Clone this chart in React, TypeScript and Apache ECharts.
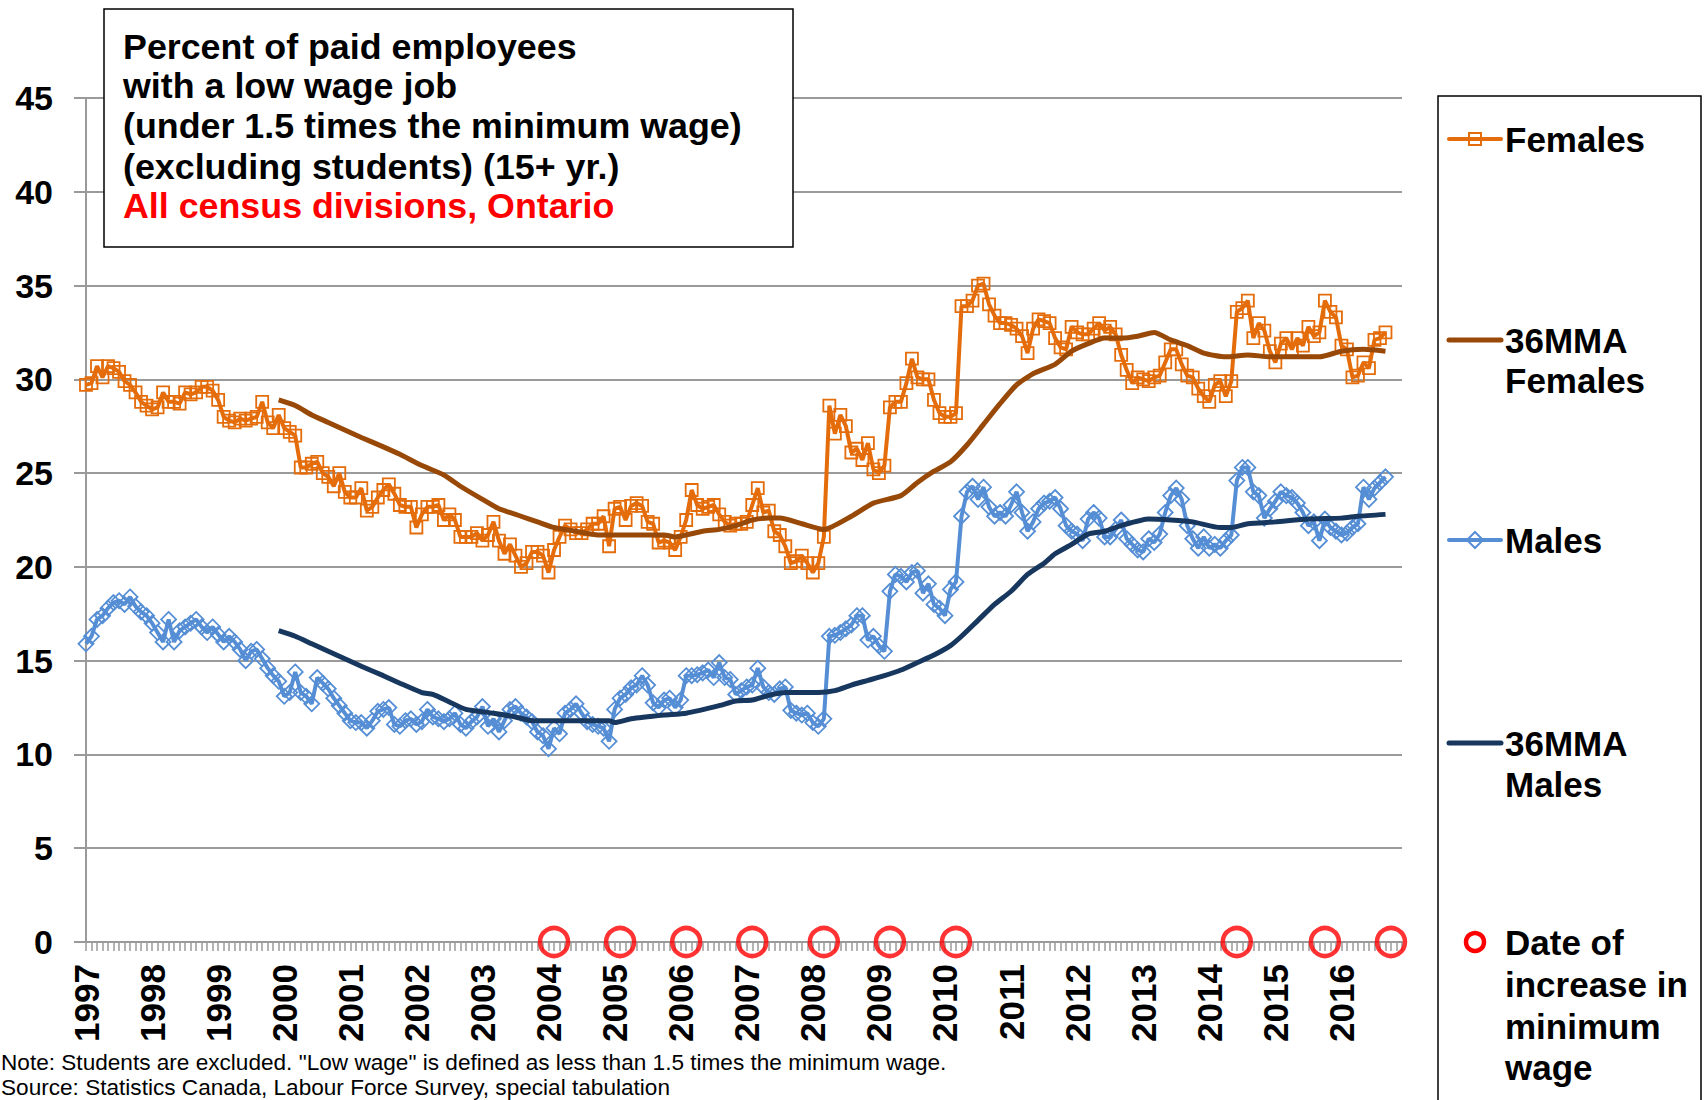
import React, { useEffect, useRef } from "react";
import * as echarts from "echarts";

// ---------- DATA ----------
const years = [1997, 1998, 1999, 2000, 2001, 2002, 2003, 2004, 2005, 2006, 2007, 2008, 2009, 2010, 2011, 2012, 2013, 2014, 2015, 2016];

// Monthly, Jan 1997 .. Sep 2016
const femalesPct = [
  29.7, 29.8, 30.7, 30.1, 30.7, 30.6, 30.4, 29.9, 29.7, 29.3,
  28.8, 28.6, 28.4, 28.5, 29.3, 28.8, 28.8, 28.7, 29.3, 29.2,
  29.3, 29.6, 29.6, 29.4, 28.9, 28.0, 27.8, 27.7, 27.9, 27.8,
  27.9, 28.0, 28.8, 27.7, 27.4, 28.1, 27.4, 27.2, 27.0, 25.3,
  25.3, 25.5, 25.6, 25.0, 24.8, 24.3, 25.0, 24.0, 23.7, 23.7,
  24.2, 23.0, 23.2, 23.7, 24.1, 24.4, 23.9, 23.3, 23.2, 23.2,
  22.1, 22.8, 23.2, 23.2, 23.3, 22.5, 22.8, 22.5, 21.6, 21.6,
  21.6, 21.8, 21.4, 21.7, 22.4, 21.4, 20.7, 21.2, 20.6, 20.0,
  20.2, 20.8, 20.8, 20.6, 19.7, 20.9, 21.6, 22.2, 22.0, 21.8,
  21.8, 22.0, 22.3, 22.3, 22.7, 21.1, 23.1, 23.2, 22.5, 23.25,
  23.4, 23.25, 22.4, 22.3, 21.3, 21.4, 21.3, 20.9, 21.6, 22.5,
  24.1, 23.3, 23.1, 23.2, 23.3, 22.8, 22.4, 22.2, 22.3, 22.3,
  22.4, 23.3, 24.2, 22.9, 23.0, 21.9, 21.7, 21.1, 20.2, 20.3,
  20.6, 20.2, 19.7, 20.2, 21.6, 28.6, 27.1, 28.1, 27.5, 26.1,
  26.3, 25.7, 26.6, 25.2, 25.0, 25.4, 28.5, 28.8, 28.8, 29.8,
  31.1, 30.1, 30.0, 30.0, 28.9, 28.2, 28.0, 28.0, 28.2, 33.9,
  33.9, 34.2, 35.0, 35.1, 34.0, 33.4, 33.0, 33.0, 32.9, 32.7,
  32.3, 31.4, 32.7, 33.2, 33.1, 33.0, 32.2, 31.7, 31.6, 32.8,
  32.5, 32.4, 32.4, 32.7, 33.0, 32.6, 32.8, 32.4, 31.3, 30.5,
  29.8, 30.1, 30.0, 29.9, 30.1, 30.2, 30.9, 31.6, 31.6, 30.8,
  30.2, 30.1, 29.5, 29.1, 28.8, 29.7, 29.9, 29.1, 29.9, 33.6,
  33.8, 34.2, 32.2, 33.0, 32.6, 31.5, 30.9, 31.9, 32.2, 31.6,
  32.2, 31.8, 32.8, 32.3, 32.5, 34.2, 33.6, 33.3, 31.8, 31.6,
  30.1, 30.2, 30.9, 30.6, 32.1, 32.2, 32.5,
];

const malesPct = [
  15.9, 16.3, 17.2, 17.4, 17.8, 18.1, 18.2, 18.0, 18.4, 17.9,
  17.6, 17.4, 17.0, 16.5, 16.0, 17.2, 16.0, 16.6, 16.8, 17.0,
  17.2, 16.8, 16.5, 16.8, 16.4, 16.0, 16.3, 16.0, 15.6, 15.0,
  15.5, 15.6, 15.1, 14.6, 14.2, 13.9, 13.1, 13.3, 14.4, 13.3,
  13.1, 12.7, 14.1, 13.8, 13.5, 13.0, 12.6, 12.2, 11.8, 11.7,
  11.7, 11.4, 11.8, 12.3, 12.4, 12.5, 11.6, 11.5, 11.8, 11.9,
  11.6, 11.75, 12.4, 12.0, 11.9, 11.75, 11.9, 12.2, 11.6, 11.4,
  11.75, 12.0, 12.55, 11.5, 11.9, 11.2, 11.8, 12.4, 12.55, 12.2,
  12.0, 11.75, 11.2, 11.0, 10.3, 11.4, 11.1, 12.2, 12.4, 12.7,
  12.2, 11.75, 11.6, 11.5, 11.4, 10.7, 12.4, 13.0, 13.2, 13.55,
  13.7, 14.2, 13.7, 12.75, 12.5, 12.9, 13.0, 12.5, 12.9, 14.2,
  14.2, 14.25, 14.35, 14.5, 14.1, 14.9, 14.1, 14.0, 13.2, 13.4,
  13.6, 13.7, 14.6, 13.6, 13.3, 13.2, 13.5, 13.6, 12.35, 12.2,
  12.1, 12.2, 11.7, 11.5, 11.9, 16.3, 16.35, 16.5, 16.7, 16.9,
  17.4, 17.4, 16.1, 16.3, 15.8, 15.5, 18.7, 19.6, 19.5, 19.2,
  19.7, 19.8, 18.6, 19.1, 18.0, 17.8, 17.4, 18.8, 19.2, 22.7,
  24.0, 24.3, 23.6, 24.25, 23.2, 22.7, 22.9, 22.7, 23.3, 24.0,
  22.9, 21.9, 22.4, 23.1, 23.4, 23.5, 23.7, 23.1, 22.2, 21.9,
  21.75, 21.4, 22.55, 22.9, 22.6, 21.6, 21.6, 22.0, 22.5, 21.5,
  21.2, 20.9, 20.8, 21.5, 21.3, 21.75, 22.9, 23.8, 24.2, 23.6,
  22.2, 21.5, 21.0, 21.6, 21.0, 21.2, 21.0, 21.4, 21.7, 24.6,
  25.3, 25.3, 24.0, 23.8, 22.6, 23.1, 23.5, 24.0, 23.8, 23.7,
  23.4, 22.9, 22.2, 22.4, 21.4, 22.55, 22.1, 21.9, 21.7, 21.8,
  22.1, 22.3, 24.25, 23.6, 24.2, 24.5, 24.8,
];

// 36-month moving averages, read at month indices (0 = Jan 1997)
const maFemalesIdx = [35, 38, 41, 44, 47, 50, 54, 57, 61, 65, 68, 72, 75, 79, 82, 85, 89, 93, 99, 105, 107, 112, 115, 118, 121, 124, 126, 130, 134, 139, 143, 148, 151, 154, 157, 160, 163, 166, 169, 172, 176, 179, 182, 185, 188, 191, 194, 197, 200, 203, 207, 211, 215, 220, 224, 228, 232, 236];
const maFemalesPct = [28.9, 28.6, 28.1, 27.7, 27.3, 26.9, 26.4, 26.0, 25.4, 24.9, 24.3, 23.6, 23.1, 22.7, 22.4, 22.1, 21.9, 21.7, 21.7, 21.7, 21.6, 21.9, 22.0, 22.2, 22.5, 22.6, 22.6, 22.3, 22.0, 22.7, 23.4, 23.8, 24.5, 25.1, 25.6, 26.5, 27.6, 28.7, 29.7, 30.3, 30.8, 31.5, 31.9, 32.2, 32.2, 32.3, 32.5, 32.1, 31.8, 31.4, 31.2, 31.3, 31.2, 31.2, 31.2, 31.5, 31.6, 31.5];

const maMalesIdx = [35, 38, 41, 44, 47, 50, 54, 57, 61, 63, 66, 69, 74, 78, 81, 87, 95, 96, 99, 105, 109, 115, 118, 121, 124, 127, 133, 136, 139, 142, 145, 148, 151, 154, 157, 159, 162, 165, 168, 171, 174, 176, 179, 182, 185, 188, 193, 197, 201, 206, 208, 211, 216, 222, 228, 231, 236];
const maMalesPct = [16.6, 16.3, 15.9, 15.5, 15.1, 14.7, 14.2, 13.8, 13.3, 13.2, 12.8, 12.4, 12.2, 12.0, 11.8, 11.8, 11.8, 11.7, 11.9, 12.1, 12.2, 12.6, 12.85, 12.9, 13.15, 13.3, 13.3, 13.4, 13.7, 13.95, 14.2, 14.5, 14.9, 15.3, 15.8, 16.3, 17.15, 18.0, 18.7, 19.6, 20.2, 20.7, 21.2, 21.75, 21.9, 22.2, 22.55, 22.5, 22.4, 22.1, 22.1, 22.3, 22.4, 22.55, 22.6, 22.7, 22.8];

const minWageIncreaseDates = ["2004-02", "2005-02", "2006-02", "2007-02", "2008-03", "2009-03", "2010-03", "2014-06", "2015-10", "2016-10"];

const titleLines = [
  "Percent of paid employees",
  "with a low wage job",
  "(under 1.5 times the minimum wage)",
  "(excluding students) (15+ yr.)",
  "All census divisions, Ontario",
];

const noteLines = [
  'Note: Students are excluded. "Low wage" is defined as less than 1.5 times the minimum wage.',
  "Source: Statistics Canada, Labour Force Survey, special tabulation",
];

// ---------- STYLE ----------
const C_FEM = "#E46C0A";
const C_FEM_MA = "#984807";
const C_MALE = "#558ED5";
const C_MALE_MA = "#17375E";
const C_RED = "#FF0000";
const GRID_GRAY = "#9a9a9a";
const FONT = '"Liberation Sans", Arial, sans-serif';

const months = years.flatMap((y) =>
  Array.from({ length: 12 }, (_, m) => `${y}-${String(m + 1).padStart(2, "0")}`)
);

function legendGraphics() {
  const lx0 = 1449;
  const lx1 = 1501;
  const cx = (lx0 + lx1) / 2;
  const tx = 1505;
  const bold = `bold 35px ${FONT}`;
  const els: any[] = [];
  els.push({
    type: "rect",
    z: 100,
    shape: { x: 1438, y: 96, width: 263, height: 1030 },
    style: { fill: "#fff", stroke: "#000", lineWidth: 1.5 },
  });
  const line = (y: number, color: string, w: number) => ({
    type: "line",
    z: 101,
    shape: { x1: lx0, y1: y, x2: lx1, y2: y },
    style: { stroke: color, lineWidth: w, lineCap: "round" },
  });
  const text = (y: number, t: string) => ({
    type: "text",
    z: 101,
    x: tx,
    y,
    style: { text: t, fill: "#000", font: bold, verticalAlign: "middle", align: "left" },
  });
  // Females
  els.push(line(139, C_FEM, 4));
  els.push({
    type: "rect",
    z: 102,
    shape: { x: cx - 6, y: 133, width: 12, height: 12 },
    style: { fill: "rgba(255,255,255,0)", stroke: C_FEM, lineWidth: 2 },
  });
  els.push(text(139, "Females"));
  // 36MMA Females
  els.push(line(340, C_FEM_MA, 5));
  els.push(text(340, "36MMA"));
  els.push(text(380, "Females"));
  // Males
  els.push(line(540, C_MALE, 4));
  els.push({
    type: "polygon",
    z: 102,
    shape: { points: [[cx, 532], [cx + 8, 540], [cx, 548], [cx - 8, 540]] },
    style: { fill: "rgba(255,255,255,0)", stroke: C_MALE, lineWidth: 2 },
  });
  els.push(text(540, "Males"));
  // 36MMA Males
  els.push(line(743, C_MALE_MA, 5));
  els.push(text(743, "36MMA"));
  els.push(text(784, "Males"));
  // Minimum wage
  els.push({
    type: "circle",
    z: 102,
    shape: { cx, cy: 942, r: 9 },
    style: { fill: "rgba(255,255,255,0)", stroke: C_RED, lineWidth: 4.5 },
  });
  els.push(text(942, "Date of"));
  els.push(text(984, "increase in"));
  els.push(text(1026, "minimum"));
  els.push(text(1067, "wage"));
  return els;
}

function titleGraphics() {
  const ys = [47, 86, 126, 167, 206];
  const els: any[] = [
    {
      type: "rect",
      z: 100,
      shape: { x: 104, y: 9, width: 689, height: 238 },
      style: { fill: "#fff", stroke: "#000", lineWidth: 1.5 },
    },
  ];
  titleLines.forEach((t, i) => {
    els.push({
      type: "text",
      z: 101,
      x: 123,
      y: ys[i],
      style: {
        text: t,
        fill: i === titleLines.length - 1 ? C_RED : "#000",
        font: `bold 35.8px ${FONT}`,
        verticalAlign: "middle",
        align: "left",
      },
    });
  });
  return els;
}

function noteGraphics() {
  const ys = [1062, 1087];
  return noteLines.map((t, i) => ({
    type: "text",
    z: 101,
    x: 1,
    y: ys[i],
    style: { text: t, fill: "#000", font: `22.6px ${FONT}`, verticalAlign: "middle", align: "left" },
  }));
}

export default function App() {
  const ref = useRef<HTMLDivElement>(null);
  useEffect(() => {
    if (!ref.current) return;
    const chart = echarts.init(ref.current, undefined, { renderer: "svg" });
    const option: any = {
      animation: false,
      backgroundColor: "#fff",
      grid: { left: 86, right: 302, top: 98, bottom: 158, containLabel: false },
      xAxis: {
        type: "category",
        data: months,
        boundaryGap: false,
        axisLine: { show: true, lineStyle: { color: GRID_GRAY, width: 2 } },
        axisTick: { show: true, interval: 0, length: 9, lineStyle: { color: GRID_GRAY, width: 1.5 } },
        axisLabel: {
          interval: (idx: number) => idx % 12 === 0,
          rotate: 90,
          margin: 22,
          fontFamily: FONT,
          fontWeight: "bold",
          fontSize: 35,
          color: "#000",
          formatter: (v: string) => v.slice(0, 4),
        },
        splitLine: { show: false },
      },
      yAxis: {
        type: "value",
        min: 0,
        max: 45,
        interval: 5,
        axisLine: { show: true, lineStyle: { color: GRID_GRAY, width: 2 } },
        axisTick: { show: true, length: 12, lineStyle: { color: GRID_GRAY, width: 2 } },
        axisLabel: {
          margin: 33,
          fontFamily: FONT,
          fontWeight: "bold",
          fontSize: 34,
          color: "#000",
        },
        splitLine: { show: true, lineStyle: { color: GRID_GRAY, width: 2 } },
      },
      series: [
        {
          name: "Females",
          type: "line",
          data: femalesPct,
          symbol: "rect",
          symbolSize: 12,
          showAllSymbol: true,
          lineStyle: { color: C_FEM, width: 4 },
          itemStyle: { color: "rgba(255,255,255,0)", borderColor: C_FEM, borderWidth: 1.8 },
          z: 2,
        },
        {
          name: "36MMA Females",
          type: "line",
          data: maFemalesIdx.map((ix, k) => [ix, maFemalesPct[k]]),
          symbol: "none",
          smooth: 0.2,
          lineStyle: { color: C_FEM_MA, width: 5 },
          z: 3,
        },
        {
          name: "Males",
          type: "line",
          data: malesPct,
          symbol: "diamond",
          symbolSize: 15,
          showAllSymbol: true,
          lineStyle: { color: C_MALE, width: 4 },
          itemStyle: { color: "rgba(255,255,255,0)", borderColor: C_MALE, borderWidth: 1.8 },
          z: 4,
        },
        {
          name: "36MMA Males",
          type: "line",
          data: maMalesIdx.map((ix, k) => [ix, maMalesPct[k]]),
          symbol: "none",
          smooth: 0.2,
          lineStyle: { color: C_MALE_MA, width: 5 },
          z: 5,
        },
        {
          name: "Date of increase in minimum wage",
          type: "scatter",
          data: minWageIncreaseDates.map((d) => [d, 0]),
          symbol: "circle",
          symbolSize: 28,
          clip: false,
          itemStyle: { color: "rgba(255,255,255,0)", borderColor: C_RED, borderWidth: 4.5 },
          z: 10,
        },
      ],
      graphic: [...titleGraphics(), ...legendGraphics(), ...noteGraphics()],
    };
    chart.setOption(option);
    return () => chart.dispose();
  }, []);
  return (
    <div
      ref={ref}
      style={{ position: "fixed", left: 0, top: 0, width: 1704, height: 1100, background: "#fff" }}
    />
  );
}
